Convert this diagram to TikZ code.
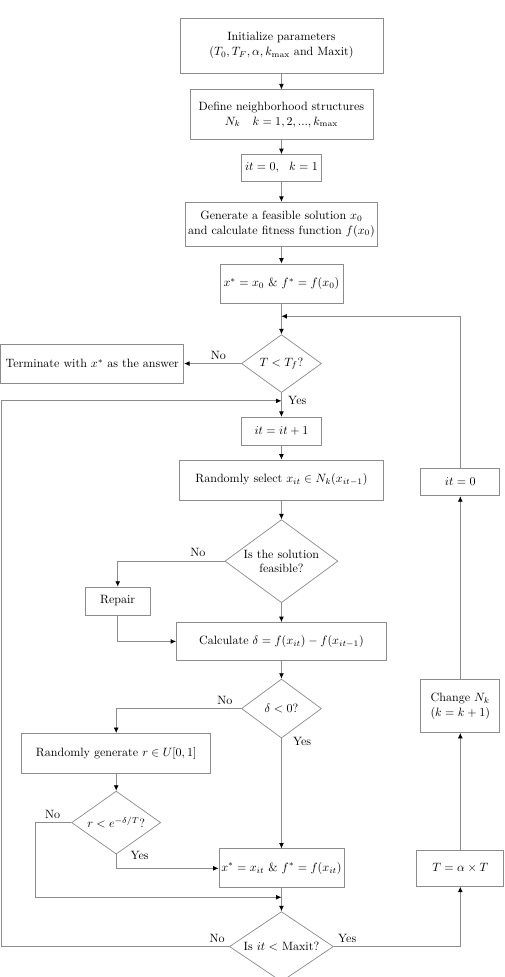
\documentclass[tikz,border=0pt]{standalone}
\usepackage{tikz}
\usepackage{amsmath}
\usetikzlibrary{positioning, shapes.geometric, arrows.meta, calc}
\definecolor{linegray}{gray}{0.55}

\begin{document}
\begin{tikzpicture}[node distance=0.8cm, >=latex]
      \tikzstyle{process} = [rectangle, draw=linegray, line width=0.6pt, inner sep=2pt, align=center, text centered]
      \tikzstyle{decision} = [diamond, aspect=1.4, draw=linegray, line width=0.6pt, inner sep=0pt, align=center, text centered]
      \tikzstyle{arrow} = [draw=linegray, line width=0.6pt, -{Latex[length=4.5pt, width=4pt, color=black]}]

      \useasboundingbox (-233.6pt,37.8pt) rectangle (185.5pt,-773.1pt);

      \node (init) [process, minimum width=168.5pt, minimum height=45.6pt] {Initialize parameters\\($T_0, T_F, \alpha, k_{\max}$ and Maxit)};
      \node (define) [process, below=13.3pt of init, minimum width=151.9pt, minimum height=41.5pt] {Define neighborhood structures\\$N_k \quad k = 1, 2, ..., k_{\max}$};
      \node (itk) [process, below=11.6pt of define, minimum width=66.4pt, minimum height=22.4pt] {$it = 0,\ \ k = 1$};
      \node (gen) [process, below=16.6pt of itk, minimum width=157.7pt, minimum height=36.5pt] {Generate a feasible solution $x_0$\\and calculate fitness function $f(x_0)$};
      \node (xstar) [process, below=14.1pt of gen, minimum width=102.1pt, minimum height=32.4pt] {$x^* = x_0$ \& $f^* = f(x_0)$};

      \draw [arrow] (init) -- (define);
      \draw [arrow] (define) -- (itk);
      \draw [arrow] (itk) -- (gen);
      \draw [arrow] (gen) -- (xstar);

      \node (decT) [decision, below=25.7pt of xstar, minimum width=66.4pt, minimum height=48.1pt] {$T < T_f$?};
      \node (term) [process, left=47.3pt of decT, minimum width=151.9pt, minimum height=32.4pt] {Terminate with $x^*$ as the answer};
      \node (itinc) [process, below=19.9pt of decT, minimum width=66.4pt, minimum height=23.2pt] {$it = it + 1$};
      \node (select) [process, below=11.6pt of itinc, minimum width=169.3pt, minimum height=33.2pt] {Randomly select $x_{it} \in N_k(x_{it-1})$};

      \coordinate [below=10.8pt of xstar] (mtop);
      \coordinate [below=6.6pt of decT] (mleft);

      \draw [arrow] (xstar) -- (decT);
      \draw [arrow] (decT.west) -- (term.east) node (noT) [pos=0.4, above] {No};
      \draw [arrow] (decT) -- (itinc) node (yesT) [pos=0.3, right=2pt] {Yes};
      \draw [arrow] (itinc) -- (select);

      \node (feas) [decision, below=15.8pt of select, minimum width=93.8pt, minimum height=68.9pt] {Is the solution\\feasible?};
      \node (repair) [process, below left=21.2pt and 61.4pt of feas.west, minimum width=54pt, minimum height=23.2pt] {Repair};
      \node (calc) [process, below=15.8pt of feas, minimum width=174.3pt, minimum height=31.5pt] {Calculate $\delta = f(x_{it}) - f(x_{it-1})$};

      \draw [arrow] (select) -- (feas);
      \draw [arrow] (feas.west) -| (repair.north) node (nofeas) [pos=0.125, above] {No};
      \draw [arrow] (repair.south) |- (calc.west);
      \draw [arrow] (feas) -- (calc);

      \node (delta) [decision, below=14.9pt of calc, minimum width=66.4pt, minimum height=49pt] {$\delta < 0$?};
      \node (randgen) [process, below left=20.3pt and 24.9pt of delta.west, minimum width=156.9pt, minimum height=33.2pt] {Randomly generate $r \in U[0, 1]$};
      \node (decr) [decision, below=14.1pt of randgen, minimum width=73.9pt, minimum height=52.3pt] {$r < e^{-\delta/T}$?};
      \node (xit) [process, below=91.3pt of delta, minimum width=102.9pt, minimum height=32.4pt] {$x^* = x_{it}$ \& $f^* = f(x_{it})$};
      \node (maxit) [decision, below=19.1pt of xit, minimum width=86.3pt, minimum height=58.1pt] {Is $it <$ Maxit?};

      \coordinate [below=7.5pt of xit] (mbot);
      \coordinate (lft) at ($(term.west |- mleft)+(0.8pt,0)$);
      \coordinate (rno) at ($(randgen.west |- mbot)+(11.6pt,0)$);

      \draw [arrow] (calc) -- (delta);
      \draw [arrow] (delta.west) -| (randgen.north) node (nodelta) [pos=0.065, above] {No};
      \draw [arrow] (delta) -- (xit) node (yesdelta) [pos=0.03, right=6pt] {Yes};
      \draw [arrow] (randgen) -- (decr);
      \draw [arrow] (decr.south) |- (xit.west) node (yesr) [pos=0.05, right=8.3pt] {Yes};
      \draw [arrow] (decr.west) -| (rno) node (nor) [pos=0.26, above] {No} -- (mbot);
      \draw [arrow] (xit) -- (maxit);

      \node (talpha) [process, right=59.8pt of xit, minimum width=72.2pt, minimum height=29.9pt] {$T = \alpha \times T$};
      \node (change) [process, above=97.1pt of talpha, minimum width=65.6pt, minimum height=44pt] {Change $N_k$\\$(k = k + 1)$};
      \node (itzero) [process, above=151.9pt of change, minimum width=65.6pt, minimum height=23.2pt] {$it = 0$};

      \draw [arrow] (maxit.west) node (nomax) [above left] {No} -| (lft) -- (mleft);
      \draw [arrow] (maxit.east) node (yesmax) [above right] {Yes} -| (talpha.south);
      \draw [arrow] (talpha) -- (change);
      \draw [arrow] (change) -- (itzero);
      \draw [arrow] (itzero.north) |- (mtop);

    \end{tikzpicture}
\end{document}
